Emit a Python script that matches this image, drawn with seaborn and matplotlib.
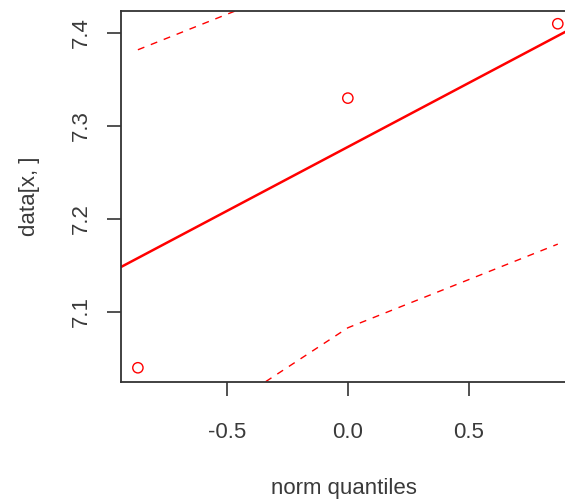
import matplotlib
matplotlib.use("Agg")
import matplotlib.pyplot as plt
import seaborn as sns
import pandas as pd

# Data
norm_quantiles = [-0.87, 0.0, 0.87]
sample_values = [7.04, 7.33, 7.41]
fit_values = [7.158, 7.2775, 7.397]          # quartile reference line at the quantiles
envelope_upper = [7.382, 7.472, 7.620]
envelope_lower = [6.935, 7.083, 7.173]

x_ticks = [-0.5, 0.0, 0.5]
x_tick_labels = ["-0.5", "0.0", "0.5"]
y_ticks = [7.1, 7.2, 7.3, 7.4]
y_tick_labels = ["7.1", "7.2", "7.3", "7.4"]

sns.set_style("white")
plt.rcParams["font.family"] = ["Liberation Sans", "DejaVu Sans"]

fig = plt.figure(figsize=(5.65, 5.0), dpi=100)
ax = fig.add_axes([121 / 565, 118 / 500, 445 / 565, 371 / 500])

df = pd.DataFrame({"q": norm_quantiles, "v": sample_values,
                   "up": envelope_upper, "lo": envelope_lower, "fit": fit_values})

red = "#ff0000"
sns.lineplot(data=df, x="q", y="up", ax=ax, color=red, lw=1.0,
             linestyle=(0, (5, 5)), sort=True)
sns.lineplot(data=df, x="q", y="lo", ax=ax, color=red, lw=1.0,
             linestyle=(0, (5, 5)), sort=True)
ax.axline((norm_quantiles[0], fit_values[0]), (norm_quantiles[2], fit_values[2]),
          color=red, lw=1.8)
sns.scatterplot(data=df, x="q", y="v", ax=ax, marker="o", s=55,
                facecolor="none", edgecolor=red, linewidth=1.0, zorder=5)

ax.set_xlim(-0.94, 0.904)
ax.set_ylim(7.0247, 7.4237)

ax.set_xticks(x_ticks)
ax.set_xticklabels(x_tick_labels)
ax.set_yticks(y_ticks)
ax.set_yticklabels(y_tick_labels, rotation=90, va="center")

txt = "#3a3a3a"
for s in ["left", "bottom", "top"]:
    ax.spines[s].set_color("#333333")
    ax.spines[s].set_linewidth(1.3)
ax.spines["right"].set_visible(False)

ax.tick_params(axis="x", direction="out", length=10, width=1.2, color="#333333",
               pad=19, labelsize=16, labelcolor=txt, bottom=True)
ax.tick_params(axis="y", direction="out", length=10, width=1.2, color="#333333",
               pad=11, labelsize=16, labelcolor=txt, left=True)

ax.set_xlabel("norm quantiles", fontsize=16, color=txt, labelpad=25)
ax.set_ylabel("data[x, ]", fontsize=16, color=txt, labelpad=22)

fig.savefig("out.png", dpi=100)
